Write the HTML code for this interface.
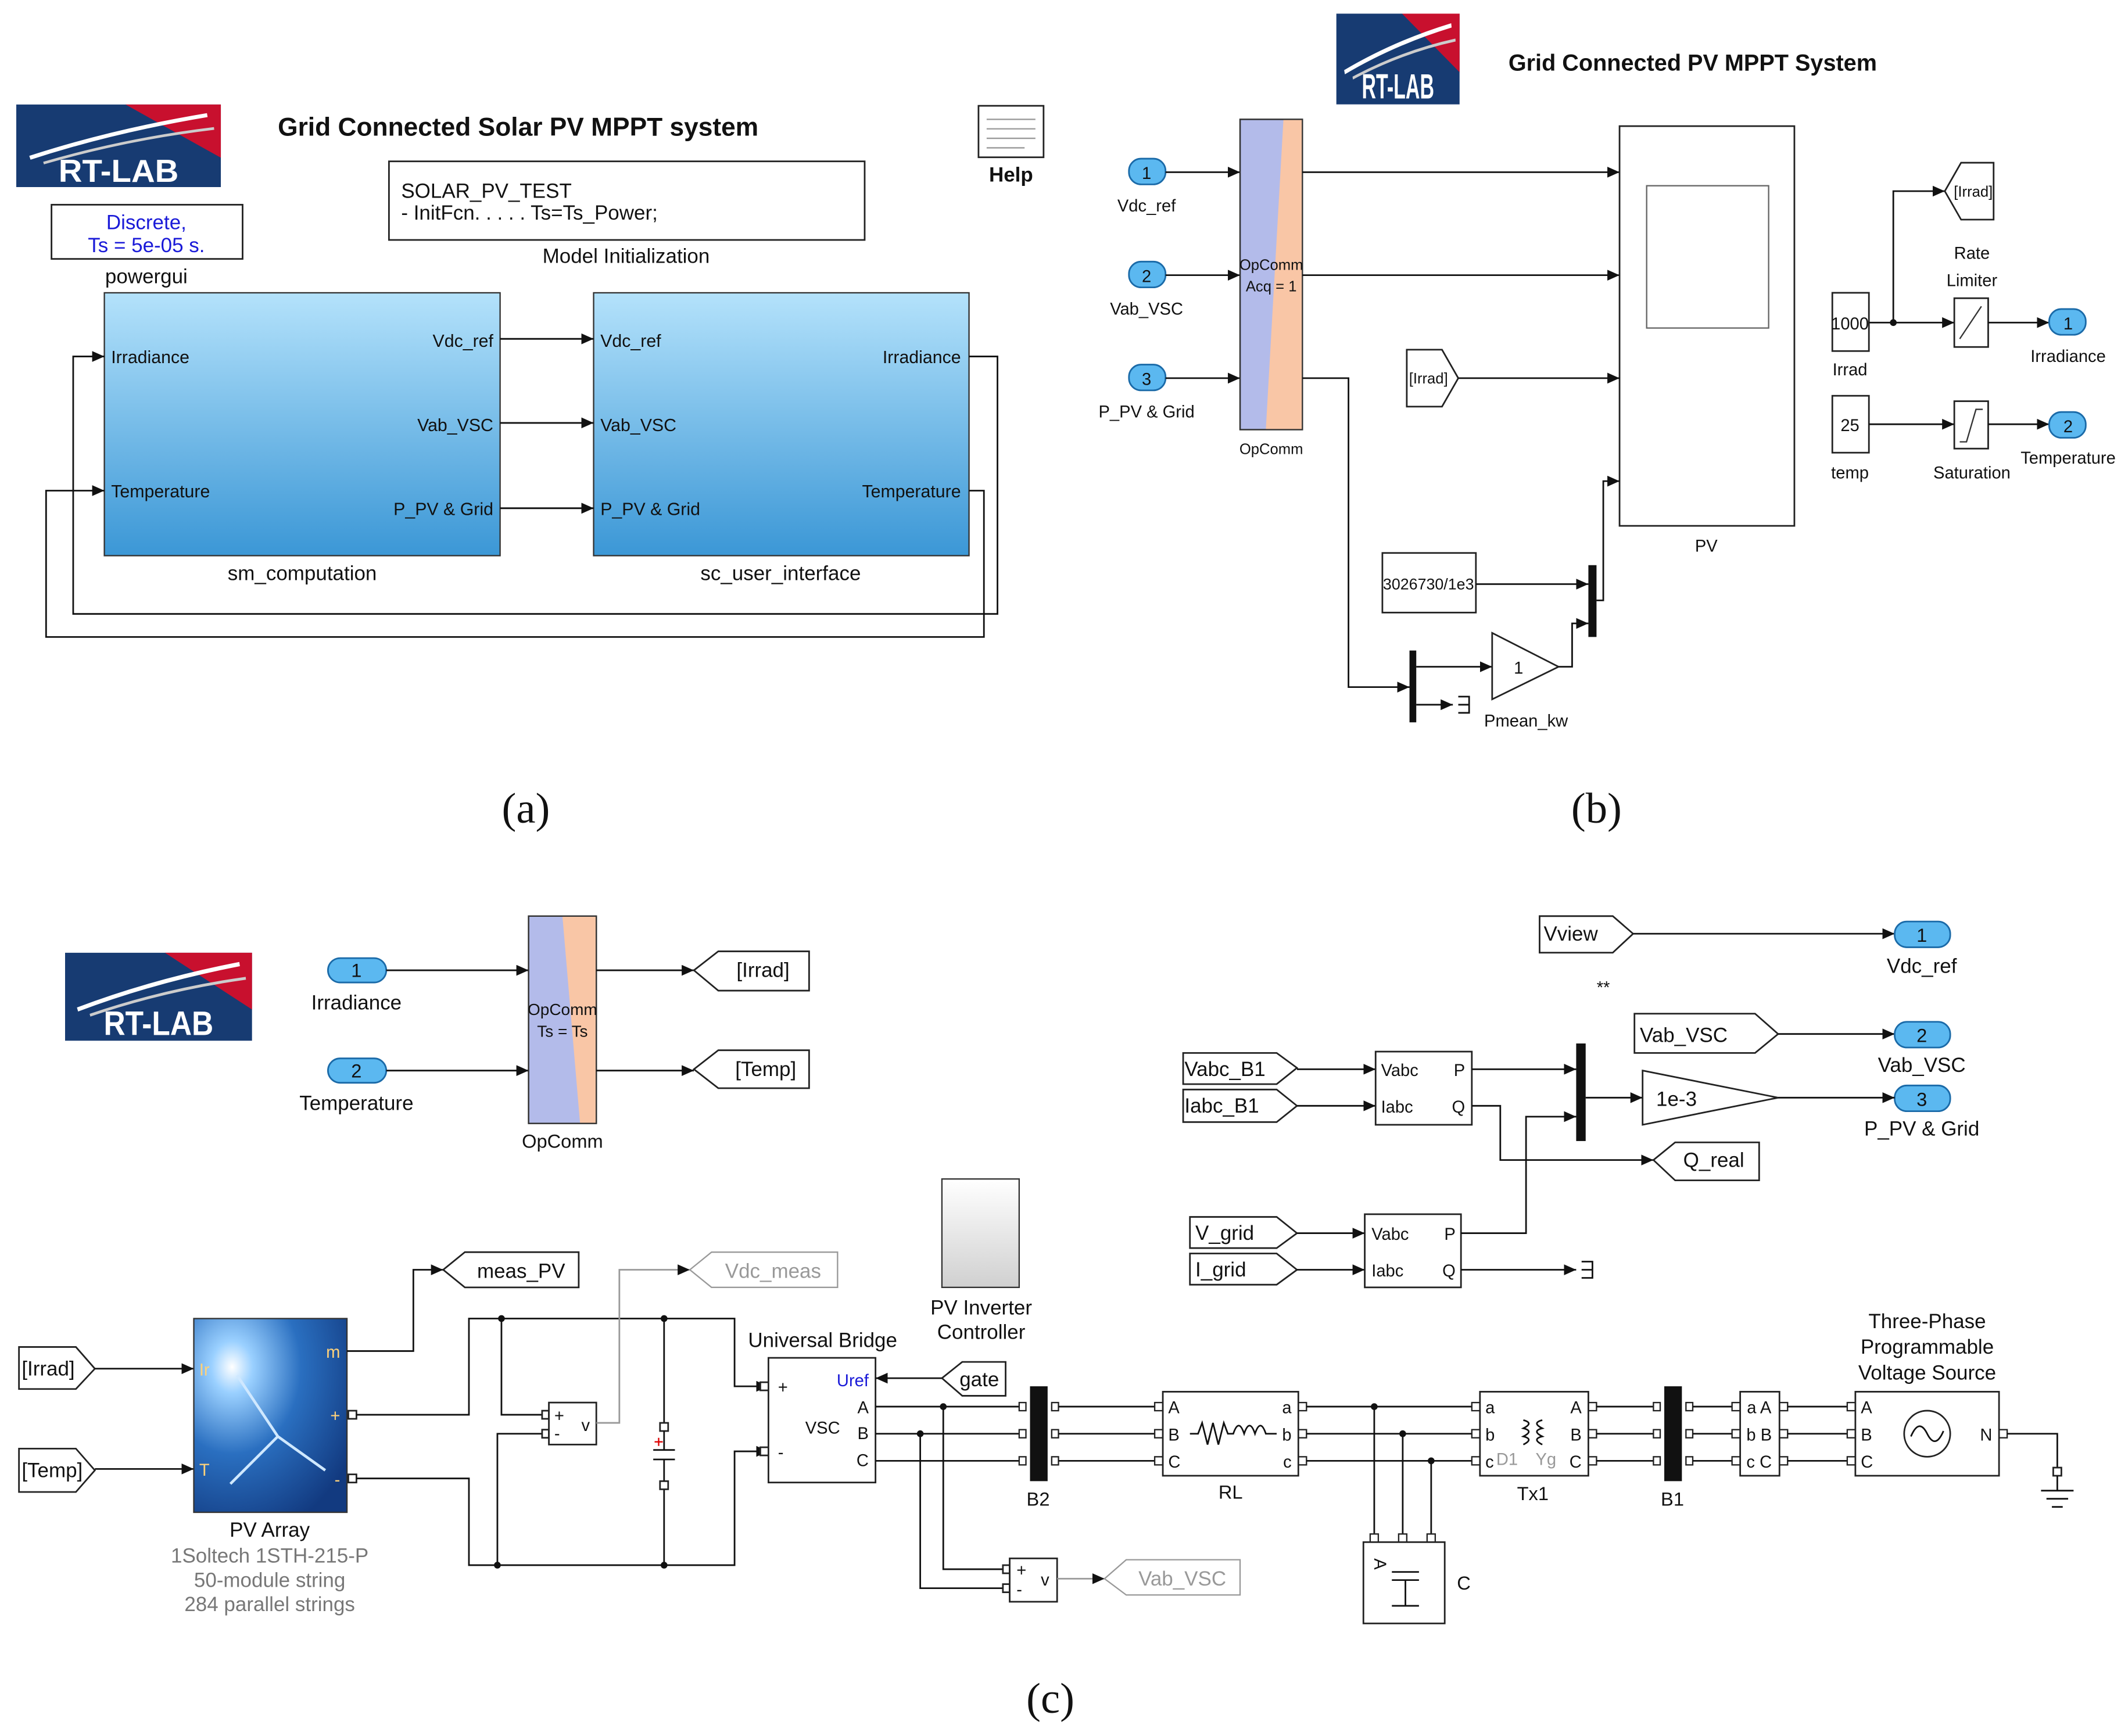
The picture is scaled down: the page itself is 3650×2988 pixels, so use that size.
<!DOCTYPE html>
<html><head><meta charset="utf-8"><style>
html,body{margin:0;padding:0;background:#fff}
svg{display:block}
text{font-family:"Liberation Sans",sans-serif;fill:#111}
.s{font-size:14px}.n{font-size:12.5px}.c{text-anchor:middle}.e{text-anchor:end}
.l{fill:none;stroke:#111;stroke-width:1.2}
.g{fill:none;stroke:#999;stroke-width:1.2}
.b{fill:#fff;stroke:#222;stroke-width:1.2}
.p{fill:#5bb8f0;stroke:#1a6aa8;stroke-width:1.2}
</style></head><body>
<svg width="3650" height="2988" viewBox="0 0 1565 1281" xmlns="http://www.w3.org/2000/svg">
<defs>
<marker id="a" markerWidth="9" markerHeight="8" refX="9" refY="4" orient="auto" markerUnits="userSpaceOnUse"><path d="M0,0L9,4L0,8z" fill="#111"/></marker>
<linearGradient id="bl" x1="0" y1="0" x2="0" y2="1"><stop offset="0" stop-color="#b4e2fb"/><stop offset="1" stop-color="#3b97d6"/></linearGradient>
<linearGradient id="gr" x1="0" y1="0" x2="0" y2="1"><stop offset="0" stop-color="#fff"/><stop offset="1" stop-color="#d0d0d0"/></linearGradient>
<radialGradient id="pv" cx="0.25" cy="0.25" r="0.9"><stop offset="0" stop-color="#ffffff"/><stop offset="0.15" stop-color="#9ad0ff"/><stop offset="0.5" stop-color="#2a6fc0"/><stop offset="1" stop-color="#123a80"/></radialGradient>
</defs>
<rect width="1565" height="1281" fill="#fff"/>

<!-- LOGOS -->
<svg x="12" y="77" width="151" height="61" viewBox="0 0 150 62" preserveAspectRatio="none">
<rect width="150" height="62" fill="#173b72"/><path d="M80,0H150V40z" fill="#c8102e"/>
<path d="M10,40 Q70,20 140,8" stroke="#fff" stroke-width="3" fill="none"/><path d="M20,44 Q80,26 145,18" stroke="#ccc" stroke-width="2" fill="none"/>
<text x="75" y="58" text-anchor="middle" style="font-size:24px;font-weight:bold;fill:#fff">RT-LAB</text></svg>
<svg x="986" y="10" width="91" height="67" viewBox="0 0 150 62" preserveAspectRatio="none">
<rect width="150" height="62" fill="#173b72"/><path d="M80,0H150V40z" fill="#c8102e"/>
<path d="M10,40 Q70,20 140,8" stroke="#fff" stroke-width="3" fill="none"/><path d="M20,44 Q80,26 145,18" stroke="#ccc" stroke-width="2" fill="none"/>
<text x="75" y="58" text-anchor="middle" style="font-size:24px;font-weight:bold;fill:#fff">RT-LAB</text></svg>
<svg x="48" y="703" width="138" height="65" viewBox="0 0 150 62" preserveAspectRatio="none">
<rect width="150" height="62" fill="#173b72"/><path d="M80,0H150V40z" fill="#c8102e"/>
<path d="M10,40 Q70,20 140,8" stroke="#fff" stroke-width="3" fill="none"/><path d="M20,44 Q80,26 145,18" stroke="#ccc" stroke-width="2" fill="none"/>
<text x="75" y="58" text-anchor="middle" style="font-size:24px;font-weight:bold;fill:#fff">RT-LAB</text></svg>

<!-- PANEL A -->
<text x="205" y="100" style="font-size:19px;font-weight:bold">Grid Connected Solar PV MPPT system</text>
<rect x="722" y="78" width="48" height="38" class="b"/><path d="M728,88H764M728,95H764M728,102H764M728,109H756" stroke="#999"/>
<text x="746" y="134" class="c" style="font-size:15px;font-weight:bold">Help</text>
<rect x="287" y="119" width="351" height="58" class="b"/>
<text x="296" y="146" class="s" style="font-size:15px">SOLAR_PV_TEST</text>
<text x="296" y="162" class="s" style="font-size:15px">- InitFcn. . . . . Ts=Ts_Power;</text>
<text x="462" y="194" class="c s" style="font-size:15px">Model Initialization</text>
<rect x="38" y="151" width="141" height="40" class="b"/>
<text x="108" y="169" class="c" style="font-size:15px;fill:#1a1ad8">Discrete,</text>
<text x="108" y="186" class="c" style="font-size:15px;fill:#1a1ad8">Ts = 5e-05 s.</text>
<text x="108" y="209" class="c" style="font-size:15px">powergui</text>
<rect x="77" y="216" width="292" height="194" fill="url(#bl)" stroke="#333"/>
<rect x="438" y="216" width="277" height="194" fill="url(#bl)" stroke="#333"/>
<text x="82" y="268" class="n" style="font-size:13px">Irradiance</text>
<text x="82" y="367" class="n" style="font-size:13px">Temperature</text>
<text x="364" y="256" class="n e" style="font-size:13px">Vdc_ref</text>
<text x="364" y="318" class="n e" style="font-size:13px">Vab_VSC</text>
<text x="364" y="380" class="n e" style="font-size:13px">P_PV &amp; Grid</text>
<text x="443" y="256" class="n" style="font-size:13px">Vdc_ref</text>
<text x="443" y="318" class="n" style="font-size:13px">Vab_VSC</text>
<text x="443" y="380" class="n" style="font-size:13px">P_PV &amp; Grid</text>
<text x="709" y="268" class="n e" style="font-size:13px">Irradiance</text>
<text x="709" y="367" class="n e" style="font-size:13px">Temperature</text>
<text x="223" y="428" class="c" style="font-size:15px">sm_computation</text>
<text x="576" y="428" class="c" style="font-size:15px">sc_user_interface</text>
<path d="M369,250H438M369,312H438M369,375H438" class="l" marker-end="url(#a)"/>
<path d="M369,250H438" class="l" marker-end="url(#a)"/><path d="M369,312H438" class="l" marker-end="url(#a)"/><path d="M369,375H438" class="l" marker-end="url(#a)"/>
<path d="M715,263H736V453H54V263H77" class="l" stroke="#777" marker-end="url(#a)"/>
<path d="M715,362H726V470H34V362H77" class="l" stroke="#777" marker-end="url(#a)"/>
<text x="388" y="607" class="c" style="font-family:'Liberation Serif',serif;font-size:32px">(a)</text>

<!-- PANEL B -->
<text x="1113" y="52" style="font-size:17px;font-weight:bold">Grid Connected PV MPPT System</text>
<rect x="833" y="117" width="27" height="19" rx="9" class="p"/><text x="846" y="132" class="c n">1</text>
<rect x="833" y="193" width="27" height="19" rx="9" class="p"/><text x="846" y="208" class="c n">2</text>
<rect x="833" y="269" width="27" height="19" rx="9" class="p"/><text x="846" y="284" class="c n">3</text>
<text x="846" y="156" class="c n">Vdc_ref</text><text x="846" y="232" class="c n">Vab_VSC</text><text x="846" y="308" class="c n">P_PV &amp; Grid</text>
<path d="M860,127H915" class="l" marker-end="url(#a)"/><path d="M860,203H915" class="l" marker-end="url(#a)"/><path d="M860,279H915" class="l" marker-end="url(#a)"/>
<path d="M915,88H961V317H915z" fill="#b3bbea" stroke="#333"/><path d="M947,88H961V317H934z" fill="#f9c6a6"/>
<rect x="915" y="88" width="46" height="229" fill="none" stroke="#333"/>
<text x="938" y="199" class="c" style="font-size:11px">OpComm</text><text x="938" y="215" class="c" style="font-size:11px">Acq = 1</text>
<text x="938" y="335" class="c n" style="font-size:11px">OpComm</text>
<path d="M961,127H1195" class="l" marker-end="url(#a)"/><path d="M961,203H1195" class="l" marker-end="url(#a)"/>
<path d="M961,279H995V507H1040" class="l" marker-end="url(#a)"/>
<rect x="1195" y="93" width="129" height="295" class="b"/><rect x="1215" y="137" width="90" height="105" fill="#fff" stroke="#666"/>
<text x="1259" y="407" class="c n">PV</text>
<path d="M1038,258H1064L1076,279L1064,300H1038z" class="b"/><text x="1054" y="283" class="c n" style="font-size:11px">[Irrad]</text>
<path d="M1076,279H1195" class="l" marker-end="url(#a)"/>
<rect x="1020" y="408" width="69" height="44" class="b"/><text x="1054" y="435" class="c n" style="font-size:11.5px">3026730/1e3</text>
<path d="M1089,431H1172" class="l" marker-end="url(#a)"/>
<rect x="1172" y="417" width="6" height="53" fill="#111"/>
<path d="M1178,443H1183V355H1195" class="l" marker-end="url(#a)"/>
<rect x="1040" y="480" width="5" height="53" fill="#111"/>
<path d="M1045,492H1101" class="l" marker-end="url(#a)"/>
<path d="M1101,467L1150,492L1101,516z" class="b"/><text x="1117" y="497" class="n">1</text>
<path d="M1150,492H1160V460H1172" class="l" marker-end="url(#a)"/>
<path d="M1045,520H1072" class="l" marker-end="url(#a)"/><path d="M1076,514H1084V526H1076M1076,520H1084" class="l"/>
<text x="1126" y="536" class="c n">Pmean_kw</text>
<rect x="1352" y="216" width="27" height="43" class="b"/><text x="1365" y="243" class="c n">1000</text><text x="1365" y="277" class="c n">Irrad</text>
<path d="M1379,238H1442" class="l" marker-end="url(#a)"/><circle cx="1397" cy="238" r="2.5" fill="#111"/>
<path d="M1397,238V141H1435" class="l" marker-end="url(#a)"/>
<path d="M1435,141L1447,120H1471V162H1447z" class="b"/><text x="1456" y="145" class="c n" style="font-size:11px">[Irrad]</text>
<text x="1455" y="191" class="c n">Rate</text><text x="1455" y="211" class="c n">Limiter</text>
<rect x="1442" y="220" width="25" height="36" class="b"/><path d="M1446,250L1462,226" stroke="#333"/>
<path d="M1467,238H1512" class="l" marker-end="url(#a)"/>
<rect x="1512" y="228" width="27" height="19" rx="9" class="p"/><text x="1526" y="243" class="c n">1</text><text x="1526" y="267" class="c n">Irradiance</text>
<rect x="1352" y="292" width="27" height="42" class="b"/><text x="1365" y="318" class="c n">25</text><text x="1365" y="353" class="c n">temp</text>
<path d="M1379,313H1442" class="l" marker-end="url(#a)"/>
<rect x="1442" y="296" width="25" height="35" class="b"/><path d="M1446,326H1451L1458,302H1463" stroke="#333" fill="none"/>
<text x="1455" y="353" class="c n">Saturation</text>
<path d="M1467,313H1512" class="l" marker-end="url(#a)"/>
<rect x="1512" y="304" width="27" height="19" rx="9" class="p"/><text x="1526" y="319" class="c n">2</text><text x="1526" y="342" class="c n">Temperature</text>
<text x="1178" y="607" class="c" style="font-family:'Liberation Serif',serif;font-size:32px">(b)</text>

<!-- PANEL C -->
<rect x="242" y="707" width="43" height="18" rx="9" class="p"/><text x="263" y="721" class="c s">1</text><text x="263" y="745" class="c" style="font-size:15px">Irradiance</text>
<rect x="242" y="781" width="43" height="18" rx="9" class="p"/><text x="263" y="795" class="c s">2</text><text x="263" y="819" class="c" style="font-size:15px">Temperature</text>
<path d="M285,716H390" class="l" marker-end="url(#a)"/><path d="M285,790H390" class="l" marker-end="url(#a)"/>
<rect x="390" y="676" width="50" height="153" fill="#b3bbea" stroke="#333"/><path d="M415,676H440V829H428z" fill="#f9c6a6"/><rect x="390" y="676" width="50" height="153" fill="none" stroke="#333"/>
<text x="415" y="749" class="c" style="font-size:12px">OpComm</text><text x="415" y="765" class="c" style="font-size:12px">Ts = Ts</text>
<text x="415" y="847" class="c s">OpComm</text>
<path d="M440,716H512" class="l" marker-end="url(#a)"/><path d="M440,790H512" class="l" marker-end="url(#a)"/>
<path d="M512,716L530,702H597V731H530z" class="b"/><text x="563" y="721" class="c" style="font-size:15px">[Irrad]</text>
<path d="M512,789L530,775H597V803H530z" class="b"/><text x="565" y="794" class="c" style="font-size:15px">[Temp]</text>

<path d="M1136,676H1190L1205,689L1190,703H1136z" class="b"/><text x="1139" y="694" style="font-size:15px">Vview</text>
<path d="M1205,689H1398" class="l" marker-end="url(#a)"/>
<rect x="1398" y="680" width="41" height="19" rx="9" class="p"/><text x="1418" y="695" class="c s">1</text><text x="1418" y="718" class="c" style="font-size:15px">Vdc_ref</text>
<text x="1183" y="733" class="c n">**</text>
<path d="M1206,748H1295L1312,763L1295,777H1206z" class="b"/><text x="1210" y="769" style="font-size:15px">Vab_VSC</text>
<path d="M1312,763H1398" class="l" marker-end="url(#a)"/>
<rect x="1398" y="754" width="41" height="19" rx="9" class="p"/><text x="1418" y="769" class="c s">2</text><text x="1418" y="791" class="c" style="font-size:15px">Vab_VSC</text>
<rect x="1398" y="801" width="41" height="19" rx="9" class="p"/><text x="1418" y="816" class="c s">3</text><text x="1418" y="838" class="c" style="font-size:15px">P_PV &amp; Grid</text>
<path d="M873,777H942L957,788L942,800H873z" class="b"/><text x="874" y="794" style="font-size:15px">Vabc_B1</text>
<path d="M873,804H942L957,816L942,828H873z" class="b"/><text x="874" y="821" style="font-size:15px">Iabc_B1</text>
<path d="M957,789H1015" class="l" marker-end="url(#a)"/><path d="M957,816H1015" class="l" marker-end="url(#a)"/>
<rect x="1015" y="776" width="71" height="54" class="b"/>
<text x="1019" y="794" class="n">Vabc</text><text x="1019" y="821" class="n">Iabc</text><text x="1081" y="794" class="n e">P</text><text x="1081" y="821" class="n e">Q</text>
<path d="M1086,789H1163" class="l" marker-end="url(#a)"/>
<rect x="1163" y="770" width="7" height="72" fill="#111"/>
<path d="M1086,816H1107V856H1220" class="l" marker-end="url(#a)"/>
<path d="M1220,856L1236,843H1298V871H1236z" class="b"/><text x="1242" y="861" style="font-size:15px">Q_real</text>
<path d="M1170,810H1212" class="l" marker-end="url(#a)"/>
<path d="M1212,790L1312,810L1212,830z" class="b"/><text x="1222" y="816" style="font-size:15px">1e-3</text>
<path d="M1312,810H1398" class="l" marker-end="url(#a)"/>
<path d="M878,898H942L957,910L942,921H878z" class="b"/><text x="882" y="915" style="font-size:15px">V_grid</text>
<path d="M878,925H942L957,937L942,948H878z" class="b"/><text x="882" y="942" style="font-size:15px">I_grid</text>
<path d="M957,910H1007" class="l" marker-end="url(#a)"/><path d="M957,937H1007" class="l" marker-end="url(#a)"/>
<rect x="1007" y="896" width="71" height="54" class="b"/>
<text x="1012" y="915" class="n">Vabc</text><text x="1012" y="942" class="n">Iabc</text><text x="1074" y="915" class="n e">P</text><text x="1074" y="942" class="n e">Q</text>
<path d="M1078,910H1126V824H1163" class="l" marker-end="url(#a)"/>
<path d="M1078,937H1163" class="l" marker-end="url(#a)"/><path d="M1167,931H1175V943H1167M1167,937H1175" class="l"/>
<rect x="695" y="870" width="57" height="80" fill="url(#gr)" stroke="#333"/>
<text x="724" y="970" class="c" style="font-size:15px">PV Inverter</text><text x="724" y="988" class="c" style="font-size:15px">Controller</text>

<path d="M14,994H56L70,1010L56,1025H14z" class="b"/><text x="16" y="1015" style="font-size:15px">[Irrad]</text>
<path d="M14,1069H56L70,1085L56,1101H14z" class="b"/><text x="16" y="1090" style="font-size:15px">[Temp]</text>
<path d="M70,1010H143" class="l" marker-end="url(#a)"/><path d="M70,1084H143" class="l" marker-end="url(#a)"/>
<rect x="143" y="973" width="113" height="143" fill="url(#pv)" stroke="#333"/>
<path d="M175,1015L205,1060L240,1085M205,1060L170,1095" stroke="#cfe8ff" stroke-width="2" fill="none"/>
<text x="147" y="1015" class="n" style="fill:#ffd27a">Ir</text><text x="147" y="1089" class="n" style="fill:#ffd27a">T</text>
<text x="251" y="1002" class="n e" style="fill:#ffd27a">m</text><text x="251" y="1049" class="n e" style="fill:#ffd27a">+</text><text x="251" y="1096" class="n e" style="fill:#ffd27a">-</text>
<text x="199" y="1134" class="c" style="font-size:15px">PV Array</text>
<text x="199" y="1153" class="c" style="font-size:15px;fill:#777">1Soltech 1STH-215-P</text>
<text x="199" y="1171" class="c" style="font-size:15px;fill:#777">50-module string</text>
<text x="199" y="1189" class="c" style="font-size:15px;fill:#777">284 parallel strings</text>
<path d="M256,997H305V937H327" class="l" marker-end="url(#a)"/>
<path d="M327,937L343,924H427V950H343z" class="b"/><text x="352" y="943" style="font-size:15px">meas_PV</text>
<rect x="257" y="1041" width="6" height="6" class="b"/><rect x="257" y="1088" width="6" height="6" class="b"/>
<path d="M263,1044H346V973H542V1023H567" class="l" marker-end="url(#a)"/>
<path d="M263,1091H346V1155H542V1071H567" class="l" marker-end="url(#a)"/>
<circle cx="370" cy="973" r="2.5" fill="#111"/><circle cx="490" cy="973" r="2.5" fill="#111"/><circle cx="367" cy="1155" r="2.5" fill="#111"/><circle cx="490" cy="1155" r="2.5" fill="#111"/>
<path d="M370,973V1044H400M367,1155V1058H400M490,973V1050M490,1097V1155" class="l"/>
<rect x="400" y="1041" width="5" height="6" class="b"/><rect x="400" y="1055" width="5" height="6" class="b"/>
<rect x="405" y="1035" width="35" height="31" class="b"/><text x="409" y="1049" class="n">+</text><text x="409" y="1062" class="n">-</text><text x="429" y="1056" class="n">v</text>
<path d="M440,1050H457V937H509" class="g" marker-end="url(#a)"/>
<path d="M509,937L525,924H618V950H525z" fill="#fff" stroke="#999"/><text x="535" y="943" style="font-size:15px;fill:#999">Vdc_meas</text>
<rect x="487" y="1050" width="6" height="6" class="b"/><rect x="487" y="1093" width="6" height="6" class="b"/>
<path d="M490,1056V1070M482,1070H498M482,1077H498M490,1077V1093" class="l"/><path d="M483,1064H489M486,1061V1067" stroke="#d00"/>
<rect x="561" y="1020" width="6" height="6" class="b"/><rect x="561" y="1068" width="6" height="6" class="b"/>
<rect x="567" y="1002" width="79" height="92" class="b"/>
<text x="607" y="994" class="c" style="font-size:15px">Universal Bridge</text>
<text x="574" y="1028" class="n">+</text><text x="574" y="1076" class="n">-</text>
<text x="641" y="1023" class="n e" style="fill:#1a1ad8">Uref</text>
<text x="607" y="1058" class="c n">VSC</text>
<text x="641" y="1043" class="n e">A</text><text x="641" y="1062" class="n e">B</text><text x="641" y="1082" class="n e">C</text>
<path d="M695,1017L710,1005H742V1030H710z" class="b"/><text x="708" y="1023" style="font-size:15px">gate</text>
<path d="M695,1017H646" class="l" marker-end="url(#a)"/>
<path d="M646,1038H755M646,1058H755M646,1078H755" class="l"/>
<circle cx="696" cy="1038" r="2.5" fill="#111"/><circle cx="679" cy="1058" r="2.5" fill="#111"/>
<path d="M696,1038V1158H740M679,1058V1172H740" class="l"/>
<rect x="740" y="1155" width="5" height="6" class="b"/><rect x="740" y="1169" width="5" height="6" class="b"/>
<rect x="745" y="1150" width="35" height="32" class="b"/><text x="750" y="1163" class="n">+</text><text x="750" y="1177" class="n">-</text><text x="768" y="1170" class="n">v</text>
<path d="M780,1165H815" class="g" marker-end="url(#a)"/>
<path d="M815,1165L831,1151H915V1177H831z" fill="#fff" stroke="#999"/><text x="840" y="1170" style="font-size:15px;fill:#999">Vab_VSC</text>
<rect x="760" y="1023" width="13" height="70" fill="#111"/><text x="766" y="1111" class="c s">B2</text>
<g fill="#fff" stroke="#222"><rect x="752" y="1035" width="5" height="6"/><rect x="752" y="1055" width="5" height="6"/><rect x="752" y="1075" width="5" height="6"/><rect x="776" y="1035" width="5" height="6"/><rect x="776" y="1055" width="5" height="6"/><rect x="776" y="1075" width="5" height="6"/></g>
<path d="M781,1038H852M781,1058H852M781,1078H852" class="l"/>
<g fill="#fff" stroke="#222"><rect x="852" y="1035" width="6" height="6"/><rect x="852" y="1055" width="6" height="6"/><rect x="852" y="1075" width="6" height="6"/><rect x="958" y="1035" width="6" height="6"/><rect x="958" y="1055" width="6" height="6"/><rect x="958" y="1075" width="6" height="6"/></g>
<rect x="858" y="1027" width="100" height="62" class="b"/>
<text x="862" y="1043" class="n">A</text><text x="862" y="1063" class="n">B</text><text x="862" y="1083" class="n">C</text>
<text x="953" y="1043" class="n e">a</text><text x="953" y="1063" class="n e">b</text><text x="953" y="1083" class="n e">c</text>
<path d="M878,1058H884L887,1050L891,1066L895,1050L899,1066L903,1050L906,1058H910Q914,1046 918,1058Q922,1046 926,1058Q930,1046 934,1058H942" class="l"/>
<text x="908" y="1106" class="c s">RL</text>
<path d="M964,1038H1086M964,1058H1086M964,1078H1086" class="l"/>
<circle cx="1014" cy="1038" r="2.5" fill="#111"/><circle cx="1035" cy="1058" r="2.5" fill="#111"/><circle cx="1056" cy="1078" r="2.5" fill="#111"/>
<path d="M1014,1038V1132M1035,1058V1132M1056,1078V1132" class="l"/>
<g fill="#fff" stroke="#222"><rect x="1011" y="1132" width="6" height="6"/><rect x="1032" y="1132" width="6" height="6"/><rect x="1053" y="1132" width="6" height="6"/></g>
<rect x="1006" y="1138" width="60" height="60" class="b"/>
<text x="1075" y="1173" class="s">C</text>
<path d="M1027,1160H1047M1027,1166H1047M1037,1166V1185M1027,1185H1047" class="l"/>
<text x="1014" y="1150" class="n" transform="rotate(90 1014 1150)">A</text>
<g fill="#fff" stroke="#222"><rect x="1086" y="1035" width="6" height="6"/><rect x="1086" y="1055" width="6" height="6"/><rect x="1086" y="1075" width="6" height="6"/><rect x="1172" y="1035" width="6" height="6"/><rect x="1172" y="1055" width="6" height="6"/><rect x="1172" y="1075" width="6" height="6"/></g>
<rect x="1092" y="1027" width="80" height="62" class="b"/>
<text x="1096" y="1043" class="n">a</text><text x="1096" y="1063" class="n">b</text><text x="1096" y="1083" class="n">c</text>
<text x="1167" y="1043" class="n e">A</text><text x="1167" y="1063" class="n e">B</text><text x="1167" y="1083" class="n e">C</text>
<text x="1104" y="1081" class="n" style="fill:#999">D1</text><text x="1133" y="1081" class="n" style="fill:#999">Yg</text>
<path d="M1124,1048Q1132,1050 1124,1054Q1132,1056 1124,1060Q1132,1062 1124,1066M1138,1048Q1130,1050 1138,1054Q1130,1056 1138,1060Q1130,1062 1138,1066" class="l"/>
<text x="1131" y="1107" class="c s">Tx1</text>
<path d="M1178,1038H1222M1178,1058H1222M1178,1078H1222" class="l"/>
<rect x="1228" y="1023" width="13" height="70" fill="#111"/><text x="1234" y="1111" class="c s">B1</text>
<g fill="#fff" stroke="#222"><rect x="1220" y="1035" width="5" height="6"/><rect x="1220" y="1055" width="5" height="6"/><rect x="1220" y="1075" width="5" height="6"/><rect x="1244" y="1035" width="5" height="6"/><rect x="1244" y="1055" width="5" height="6"/><rect x="1244" y="1075" width="5" height="6"/></g>
<path d="M1249,1038H1278M1249,1058H1278M1249,1078H1278" class="l"/>
<g fill="#fff" stroke="#222"><rect x="1278" y="1035" width="6" height="6"/><rect x="1278" y="1055" width="6" height="6"/><rect x="1278" y="1075" width="6" height="6"/><rect x="1313" y="1035" width="6" height="6"/><rect x="1313" y="1055" width="6" height="6"/><rect x="1313" y="1075" width="6" height="6"/></g>
<rect x="1284" y="1027" width="29" height="62" class="b"/>
<text x="1298" y="1043" class="c n">a A</text><text x="1298" y="1063" class="c n">b B</text><text x="1298" y="1083" class="c n">c C</text>
<path d="M1319,1038H1363M1319,1058H1363M1319,1078H1363" class="l"/>
<g fill="#fff" stroke="#222"><rect x="1363" y="1035" width="6" height="6"/><rect x="1363" y="1055" width="6" height="6"/><rect x="1363" y="1075" width="6" height="6"/><rect x="1475" y="1055" width="6" height="6"/></g>
<rect x="1369" y="1027" width="106" height="62" class="b"/>
<text x="1373" y="1043" class="n">A</text><text x="1373" y="1063" class="n">B</text><text x="1373" y="1083" class="n">C</text><text x="1470" y="1063" class="n e">N</text>
<circle cx="1422" cy="1058" r="17" class="b"/><path d="M1410,1060Q1416,1046 1422,1058Q1428,1070 1434,1056" class="l"/>
<text x="1422" y="980" class="c" style="font-size:15px">Three-Phase</text><text x="1422" y="999" class="c" style="font-size:15px">Programmable</text><text x="1422" y="1018" class="c" style="font-size:15px">Voltage Source</text>
<path d="M1481,1058H1518V1085" class="l"/><rect x="1515" y="1083" width="6" height="6" class="b"/>
<path d="M1518,1089V1100M1506,1100H1530M1510,1106H1526M1514,1112H1522" class="l"/>
<text x="775" y="1264" class="c" style="font-family:'Liberation Serif',serif;font-size:32px">(c)</text>
</svg>
</body></html>
